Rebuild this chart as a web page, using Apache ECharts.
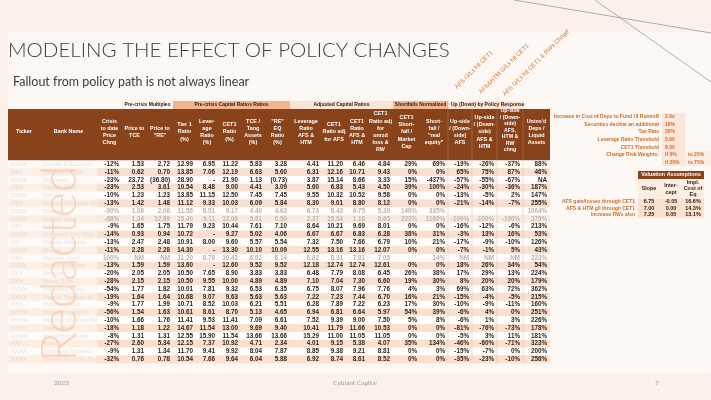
<!DOCTYPE html>
<html lang="en">
<head>
<meta charset="UTF-8">
<title>Modeling the effect of policy changes</title>
<script src="https://cdn.jsdelivr.net/npm/echarts@6/dist/echarts.min.js"></script>
<style>
    html, body { margin: 0; padding: 0; background: #fbf1eb; }
    #main { width: 711px; height: 400px; }
</style>
</head>
<body>
<div id="main"></div>
<script>
    // ---- table data (one array per column, 26 banks) ----
    // names are redacted in the source, so placeholders only
    var tickers = ['XXXX', 'XXX', 'XXXX', 'XXX', 'XXXX', 'XXX', 'XXXX', 'XXXX', 'XXX', 'XXXX', 'XX', 'XXXX', 'XXX',
        'XXXX', 'XXX', 'XXX', 'XXXX', 'XXXX', 'XXX', 'XXXX', 'XXXX', 'XXX', 'XXXX', 'XXX', 'XXXX', 'XXXX'];
    var bankNames = ['Xxxxxx & Xxxxxxx', 'Xxxxxxxx Xxxx', 'Xxxxxxxx', 'Xxxxxx Xxxx', 'Xxxxxxx', 'Xxxxxx Xxxxxxxx Xxx',
        'Xxxxxxx', 'Xxxxxx Xxxx', 'Xxxxx', 'Xxxxxxxx Xxx Xxxx', 'Xxxxxx Xxxxxxx', 'Xxxxxx', 'Xxxxxxx Xxxx',
        'Xxxxxx Xxxxxxx', 'Xxxxxxx', 'Xxxxx Xxxx', 'Xxxxxxxx Xxxxx', 'Xxxxxx Xxxxxxx Xx', 'Xxxxxxx Xxxx',
        'Xxxxx Xxxxxxxxx', 'Xxxxxxx Xxxxxxx Xxxx', 'Xxxxx Xxxx', 'Xxxxxxxxx Xxxxx', 'Xxxxxx', 'Xxxxxxxx Xxxxxxx', 'Xxxxxx Xxxxxxx Xxxx'];
    var crisisChg = ['-12%', '-11%', '-23%', '-23%', '-10%', '-13%', '-90%', '-88%', '-9%', '-14%', '-13%', '-11%', '100%',
        '-13%', '-20%', '-28%', '-54%', '-19%', '-9%', '-56%', '-10%', '-18%', '-8%', '-27%', '-9%', '-32%'];
    var priceToTce = ['1.53', '0.62', '23.72', '2.53', '1.23', '1.42', '1.06', '1.34', '1.65', '0.93', '2.47', '2.28', 'NM',
        '1.59', '2.05', '2.15', '1.77', '1.64', '1.77', '1.54', '1.66', '1.18', '1.31', '2.60', '1.31', '0.76'];
    var priceToRe = ['2.72', '0.70', '(36.80)', '3.61', '1.23', '1.48', '2.06', '12.89', '1.75', '0.94', '2.48', '2.28', 'NM',
        '1.59', '2.05', '2.15', '1.82', '1.64', '1.99', '1.63', '1.76', '1.22', '1.31', '5.34', '1.34', '0.78'];
    var tier1 = ['12.99', '13.85', '28.90', '10.54', '13.85', '11.12', '11.56', '15.40', '11.79', '10.72', '10.91', '14.30', '11.20',
        '13.60', '10.50', '10.50', '10.01', '10.68', '10.71', '10.61', '11.41', '14.67', '12.55', '12.15', '11.70', '10.54'];
    var leverage = ['6.95', '7.06', '-', '8.48', '11.15', '9.33', '8.51', '9.11', '9.23', '-', '8.00', '-', '8.79',
        '-', '7.65', '9.55', '7.81', '9.07', '8.52', '8.61', '9.53', '11.54', '15.90', '7.37', '9.41', '7.66'];
    var cet1 = ['11.22', '12.19', '21.90', '9.00', '12.50', '10.03', '9.17', '12.06', '10.44', '9.27', '9.60', '13.30', '10.41',
        '12.60', '8.90', '10.00', '9.32', '9.63', '10.03', '8.70', '11.41', '13.00', '11.54', '10.92', '9.92', '9.64'];
    var tceTangAssets = ['5.83', '6.63', '1.13', '4.41', '7.45', '6.09', '4.40', '5.61', '7.61', '5.02', '5.57', '10.10', '6.62',
        '9.52', '3.83', '4.89', '6.53', '5.63', '6.21', '5.13', '7.09', '9.69', '13.66', '4.71', '8.04', '6.04'];
    var reEqRatio = ['3.28', '5.60', '(0.73)', '3.09', '7.45', '5.84', '4.63', '0.59', '7.10', '4.06', '5.54', '10.09', '6.14',
        '9.52', '3.83', '4.89', '6.35', '5.63', '5.51', '4.65', '6.61', '9.40', '13.66', '2.34', '7.87', '5.88'];
    var levAfsHtm = ['4.41', '6.31', '3.87', '5.60', '9.55', '8.30', '6.73', '2.37', '8.64', '6.67', '7.32', '12.55', '6.82',
        '12.18', '6.48', '7.10', '6.75', '7.22', '6.28', '6.94', '7.52', '10.41', '15.29', '4.01', '8.85', '6.92'];
    var cet1AdjAfs = ['11.20', '12.16', '15.14', '6.83', '10.32', '9.01', '8.43', '15.54', '10.21', '6.67', '7.50', '13.16', '8.31',
        '12.74', '7.79', '7.04', '8.07', '7.23', '7.89', '6.81', '9.39', '11.79', '11.00', '9.15', '9.38', '8.74'];
    var cet1AfsHtm = ['6.46', '10.71', '8.66', '5.43', '10.52', '8.80', '6.75', '1.18', '9.69', '6.83', '7.66', '13.16', '7.81',
        '12.74', '8.08', '7.30', '7.96', '7.44', '7.22', '6.64', '9.00', '11.66', '11.05', '5.38', '9.21', '8.61'];
    var cet1AdjUnrzd = ['4.84', '9.43', '3.33', '4.50', '9.58', '8.12', '5.39', '0.65', '8.01', '6.28', '6.79', '12.07', '7.05',
        '12.61', '6.45', '6.60', '7.76', '6.70', '6.23', '5.97', '7.50', '10.53', '11.05', '4.07', '8.81', '8.52'];
    var shortfallMktCap = ['29%', '0%', '15%', '39%', '0%', '0%', '140%', '223%', '0%', '38%', '10%', '0%', '',
        '0%', '26%', '19%', '4%', '16%', '17%', '54%', '5%', '0%', '0%', '35%', '0%', '0%'];
    var shortfallRealEq = ['69%', '0%', '-437%', '100%', '0%', '0%', '335%', '1160%', '0%', '31%', '21%', '0%', '14%',
        '0%', '38%', '30%', '3%', '21%', '30%', '39%', '8%', '0%', '0%', '134%', '0%', '0%'];
    var upAfs = ['-19%', '65%', '-57%', '-24%', '-13%', '-21%', '', '-100%', '-16%', '-3%', '-17%', '-7%', 'NM',
        '18%', '17%', '8%', '69%', '-15%', '-10%', '-6%', '-6%', '-81%', '-5%', '-46%', '-15%', '-35%'];
    var upAfsHtm = ['-26%', '75%', '-55%', '-30%', '-5%', '-14%', '', '-100%', '-12%', '13%', '-9%', '-1%', 'NM',
        '26%', '29%', '20%', '63%', '-4%', '-9%', '4%', '1%', '-76%', '3%', '-60%', '-7%', '-23%'];
    var upAfsHtmRw = ['-37%', '87%', '-67%', '-36%', '2%', '-7%', '', '-100%', '-6%', '16%', '-10%', '5%', 'NM',
        '34%', '13%', '20%', '72%', '-5%', '-11%', '0%', '3%', '-73%', '11%', '-71%', '0%', '-10%'];
    var uninsDeps = ['88%', '46%', 'NA', '187%', '147%', '255%', '1064%', '379%', '213%', '53%', '126%', '43%', '323%',
        '54%', '224%', '179%', '362%', '215%', '160%', '251%', '226%', '178%', '181%', '323%', '200%', '258%'];
    // rows printed in grey in the source
    var fadedRows = [6, 7, 12];

    var headerLabels = ['Ticker', 'Bank Name', 'Crisis\nto date\nPrice\nChng', 'Price to\nTCE', 'Price to\n"RE"',
        'Tier 1\nRatio\n(%)', 'Lever-\nage\nRatio\n(%)', 'CET1\nRatio\n(%)', 'TCE /\nTang\nAssets\n(%)', '"RE"\nEQ\nRatio\n(%)',
        'Leverage\nRatio\nAFS &\nHTM', 'CET1\nRatio adj\nfor AFS', 'CET1\nRatio\nAFS &\nHTM', 'CET1\nRatio adj\nfor\nunrzd\nloss &\nRW',
        'CET1\nShort-\nfall /\nMarket\nCap', 'Short-\nfall /\n"real\nequity"', 'Up-side\n/ (Down-\nside)\nAFS',
        'Up-side\n/ (Down-\nside)\nAFS &\nHTM', 'Up-side\n/ (Down-\nside)\nAFS,\nHTM &\nRW\nchng', "Unins'd\nDeps /\nLiquid\nAssets"];
    var groupLabels = ['Pre-crisis Multiples', 'Pre-crisis Capital Ratios Ratios', 'Adjusted Capital Ratios',
        'Shortfalls Normalized', 'Up (Down) by Policy Response'];
    var scenarioLabels = ['AFS G/Ls hit CET1', 'AFS&HTM G/Ls hit CET1', 'AFS G/Ls hit CET1 & RWs Chngd'];

    // ---- right hand assumptions ----
    var assumptionLabels = ['Increase in Cost of Deps to Fund UI Runnoff', 'Securities decline an additional', 'Tax Rate',
        'Leverage Ratio Threshold', 'CET1 Threshold', 'Change Risk Weights:', ''];
    var assumptionValues = ['2.0x', '10%', '30%', '5.00', '8.00', 'if 0%', 'if 20%'];
    var assumptionTo = ['', '', '', '', '', 'to 20%', 'to 75%'];

    var valuationLabels = ['AFS gain/losses through CET1', 'AFS & HTM g/l through CET1', 'Increase RWs also'];
    var valSlope = ['6.75', '7.00', '7.25'];
    var valIntercept = ['-0.05', '0.00', '0.05'];
    var valCostOfEq = ['16.6%', '14.3%', '13.1%'];

    // ---- layout ----
    var tableCols = [tickers, bankNames, crisisChg, priceToTce, priceToRe, tier1, leverage, cet1, tceTangAssets, reEqRatio,
        levAfsHtm, cet1AdjAfs, cet1AfsHtm, cet1AdjUnrzd, shortfallMktCap, shortfallRealEq, upAfs, upAfsHtm, upAfsHtmRw, uninsDeps];
    var colEdges = [8, 40, 97, 122, 147, 173, 196, 218, 241, 265, 290, 322, 346, 368, 393, 420, 448, 472, 497, 523, 550];
    var groupSpans = [[3, 5], [5, 10], [10, 14], [14, 16], [16, 19]];
    var groupFill = ['#fdf4ee', '#f3b590', '#fce4d5', '#f3b590', '#fce4d5'];
    var sideEdges = [545, 662, 685, 711];
    var valEdges = [545, 638, 660, 682, 704];

    var ROW_TOP = 160.4, ROW_H = 7.8, HEAD_TOP = 109;
    var FONT = '"Liberation Sans Narrow", "Liberation Sans", Arial, sans-serif';
    var ORANGE = '#cd6a2e', BROWN = '#88431a', INK = '#2b1d14';

    var rowIds = tickers.map(function (t, i) { return 'r' + i; });

    function txt(text, x, y, opt) {
        opt = opt || {};
        return {
            type: 'text', x: x, y: y, z: opt.z || 20, rotation: opt.rotation || 0, silent: true,
            style: {
                text: text, align: opt.align || 'center', verticalAlign: opt.valign || 'middle',
                textAlign: opt.align || 'center', textVerticalAlign: opt.valign || 'middle',
                fontSize: opt.size || 6, fontWeight: opt.weight || 'bold', fontFamily: opt.family || FONT,
                fill: opt.fill || INK, lineHeight: opt.lh || undefined
            }
        };
    }

    function box(x, y, w, h, fill, z) {
        return {type: 'rect', silent: true, z: z || 5, shape: {x: x, y: y, width: w, height: h}, style: {fill: fill}};
    }

    // main table cells
    function renderMain(params, api) {
        var r = api.value(1), c = api.value(2);
        var p0 = api.coord([colEdges[c], r]);
        var x1 = api.coord([colEdges[c + 1], r])[0];
        var h = api.size([0, 1])[1];
        var faded = fadedRows.indexOf(r) >= 0;
        var odd = r % 2 === 1;
        var bg;
        if (c < 2) bg = odd ? '#fcefe6' : '#fefaf7';
        else bg = odd ? (faded ? '#fcebe0' : '#fbe0cf') : '#fffdfb';
        var kids = [{type: 'rect', shape: {x: p0[0], y: p0[1] - h / 2, width: x1 - p0[0], height: h}, style: {fill: bg}}];
        var s = tableCols[c][r];
        if (s) {
            if (c < 2) {
                kids.push({
                    type: 'text', x: p0[0] + 3, y: p0[1],
                    style: {
                        text: s, align: 'left', verticalAlign: 'middle', fontSize: 6, fontFamily: FONT,
                        fill: 'rgba(130,115,108,0.16)', textShadowColor: 'rgba(130,115,108,0.45)', textShadowBlur: 4
                    }
                });
            } else {
                kids.push({
                    type: 'text', x: x1 - 3, y: p0[1],
                    style: {
                        text: s, align: 'right', verticalAlign: 'middle', fontSize: 6.3, fontWeight: 'bold',
                        fontFamily: FONT, fill: faded ? '#bdb3ad' : INK
                    }
                });
            }
        }
        return {type: 'group', children: kids};
    }

    // assumption list cells
    function renderSide(params, api) {
        var r = api.value(1), c = api.value(2);
        var p0 = api.coord([sideEdges[c], r]);
        var x1 = api.coord([sideEdges[c + 1], r])[0];
        var h = api.size([0, 1])[1];
        var cols = [assumptionLabels, assumptionValues, assumptionTo];
        var s = cols[c][r];
        var kids = [];
        if (c === 1) kids.push({type: 'rect', shape: {x: p0[0], y: p0[1] - h / 2, width: x1 - p0[0], height: h}, style: {fill: '#fce6d8'}});
        if (c === 2 && s) kids.push({type: 'rect', shape: {x: p0[0], y: p0[1] - h / 2, width: x1 - p0[0], height: h}, style: {fill: '#fdeee4'}});
        if (s) {
            kids.push({
                type: 'text', x: c === 0 ? x1 - 3 : p0[0] + 3, y: p0[1],
                style: {
                    text: s, align: c === 0 ? 'right' : 'left', verticalAlign: 'middle', fontSize: 5,
                    fontWeight: 'bold', fontFamily: FONT, fill: ORANGE
                }
            });
        }
        return {type: 'group', children: kids};
    }

    // valuation mini table cells
    function renderVal(params, api) {
        var r = api.value(1), c = api.value(2);
        var p0 = api.coord([valEdges[c], r]);
        var x1 = api.coord([valEdges[c + 1], r])[0];
        var h = api.size([0, 1])[1];
        var cols = [valuationLabels, valSlope, valIntercept, valCostOfEq];
        var kids = [];
        if (c > 0) kids.push({type: 'rect', shape: {x: p0[0], y: p0[1] - h / 2, width: x1 - p0[0], height: h}, style: {fill: '#fbe0cf'}});
        kids.push({
            type: 'text', x: c === 0 ? x1 - 3 : (p0[0] + x1) / 2, y: p0[1],
            style: {
                text: cols[c][r], align: c === 0 ? 'right' : 'center', verticalAlign: 'middle', fontSize: c === 0 ? 5 : 5.5,
                fontWeight: 'bold', fontFamily: FONT, fill: c === 0 ? ORANGE : INK
            }
        });
        return {type: 'group', children: kids};
    }

    var mainData = [];
    for (var r = 0; r < tickers.length; r++) {
        for (var c = 0; c < tableCols.length; c++) mainData.push([colEdges[c], r, c]);
    }
    var sideData = [];
    for (var i = 0; i < assumptionLabels.length; i++) {
        for (var j = 0; j < 3; j++) sideData.push([sideEdges[j], i, j]);
    }
    var valData = [];
    for (var k = 0; k < valuationLabels.length; k++) {
        for (var m = 0; m < 4; m++) valData.push([valEdges[m], k, m]);
    }

    // ---- static slide parts: title, header band, notes ----
    var g = [];
    g.push(box(8, 32, 703, 341, '#fdf8f4', 1));
    g.push(txt('MODELING THE EFFECT OF POLICY CHANGES', 8, 50,
        {align: 'left', size: 20.5, weight: 300, family: 'Lato, "Noto Sans", sans-serif', fill: '#3d3d3d'}));
    g.push(txt('Fallout from policy path is not always linear', 13, 82,
        {align: 'left', size: 12.5, weight: 'normal', family: 'Lato, "Noto Sans", sans-serif', fill: '#3d3d3d'}));
    // decorative slide lines
    g.push({type: 'line', silent: true, z: 2, shape: {x1: 514, y1: 0, x2: 711, y2: 33}, style: {stroke: '#7d7d7d', lineWidth: 0.6}});
    g.push({type: 'line', silent: true, z: 2, shape: {x1: 595, y1: 0, x2: 711, y2: 82}, style: {stroke: '#7d7d7d', lineWidth: 0.6}});
    // scenario labels over the up/down columns
    var scenStart = [[458, 90], [482, 95], [506, 97]];
    scenarioLabels.forEach(function (s, i) {
        g.push(txt(s, scenStart[i][0], scenStart[i][1],
            {align: 'left', valign: 'bottom', rotation: Math.PI / 4, size: 6, weight: 'normal', fill: '#d27538'}));
    });
    // group header row
    groupSpans.forEach(function (sp, i) {
        var x0 = colEdges[sp[0]], x1 = colEdges[sp[1]];
        g.push(box(x0, 101, x1 - x0, 8, groupFill[i], 6));
        if (i === 4) g.push(txt(groupLabels[i], x0 + 3, 105, {align: 'left', size: 5}));
        else g.push(txt(groupLabels[i], (x0 + x1) / 2, 105, {size: 5}));
    });
    // brown column header
    g.push(box(8, HEAD_TOP, 542, ROW_TOP - HEAD_TOP, BROWN, 6));
    headerLabels.forEach(function (s, i) {
        var cx = (colEdges[i] + colEdges[i + 1]) / 2;
        if (i === 18) g.push(txt(s, cx, 130.5, {size: 5.2, fill: '#ffffff', lh: 6.5}));
        else g.push(txt(s, cx, 132, {size: 5.4, fill: '#ffffff', lh: 7.2}));
    });
    // separators of the up/down block
    [448, 472, 497, 523].forEach(function (x) {
        g.push({type: 'line', silent: true, z: 30, shape: {x1: x, y1: 101, x2: x, y2: ROW_TOP + ROW_H * tickers.length},
            style: {stroke: 'rgba(205,160,135,0.55)', lineWidth: 0.6}});
    });
    // redaction watermark over names, reading upward from the last row
    g.push(txt('Redacted', 60, 362, {rotation: Math.PI / 2, align: 'left', size: 49, weight: 300,
        family: 'Lato, "Noto Sans", sans-serif', fill: 'rgba(242,190,158,0.55)', z: 40}));
    // valuation header
    g.push(box(638, 171, 66, 8, BROWN, 6));
    g.push(txt('Valuation Assumptions', 671, 175, {size: 5.4, fill: '#ffffff'}));
    g.push(box(638, 179, 66, 19, '#fdeee4', 6));
    g.push(txt('Slope', 649, 189, {size: 5.4}));
    g.push(txt('Inter-\ncept', 671, 189, {size: 5.4, lh: 6.5}));
    g.push(txt('Impl.\nCost of\nEq', 693, 189, {size: 5.4, lh: 6}));
    // footer
    g.push(txt('2023', 54, 383, {align: 'left', size: 6.5, weight: 'normal', family: 'Lato, sans-serif', fill: '#9a9a9a'}));
    g.push(txt('Cybiant Capital', 355, 383, {size: 6.5, weight: 'normal', family: 'Lato, sans-serif', fill: '#9a9a9a'}));
    g.push(txt('7', 657, 383, {size: 6.5, weight: 'normal', family: 'Lato, sans-serif', fill: '#9a9a9a'}));

    var mychart = echarts.init(document.getElementById('main'));

    var option = {
        animation: false,
        backgroundColor: '#fbf1eb',
        grid: [
            {left: 8, top: ROW_TOP, width: 542, height: ROW_H * tickers.length},
            {left: 545, top: 113, width: 166, height: 7.6 * assumptionLabels.length},
            {left: 545, top: 198.5, width: 159, height: 6.5 * valuationLabels.length}
        ],
        xAxis: [
            {type: 'value', gridIndex: 0, min: 8, max: 550, show: false},
            {type: 'value', gridIndex: 1, min: 545, max: 711, show: false},
            {type: 'value', gridIndex: 2, min: 545, max: 704, show: false}
        ],
        yAxis: [
            {type: 'category', gridIndex: 0, data: rowIds, inverse: true, show: false},
            {type: 'category', gridIndex: 1, data: assumptionLabels.map(function (s, i) { return 'a' + i; }), inverse: true, show: false},
            {type: 'category', gridIndex: 2, data: valuationLabels, inverse: true, show: false}
        ],
        graphic: {elements: g},
        series: [
            {type: 'custom', xAxisIndex: 0, yAxisIndex: 0, renderItem: renderMain, data: mainData,
                encode: {x: 0, y: 1}, clip: false, silent: true, z: 10},
            {type: 'custom', xAxisIndex: 1, yAxisIndex: 1, renderItem: renderSide, data: sideData,
                encode: {x: 0, y: 1}, clip: false, silent: true, z: 10},
            {type: 'custom', xAxisIndex: 2, yAxisIndex: 2, renderItem: renderVal, data: valData,
                encode: {x: 0, y: 1}, clip: false, silent: true, z: 10}
        ]
    };

    mychart.setOption(option);
</script>
</body>
</html>
